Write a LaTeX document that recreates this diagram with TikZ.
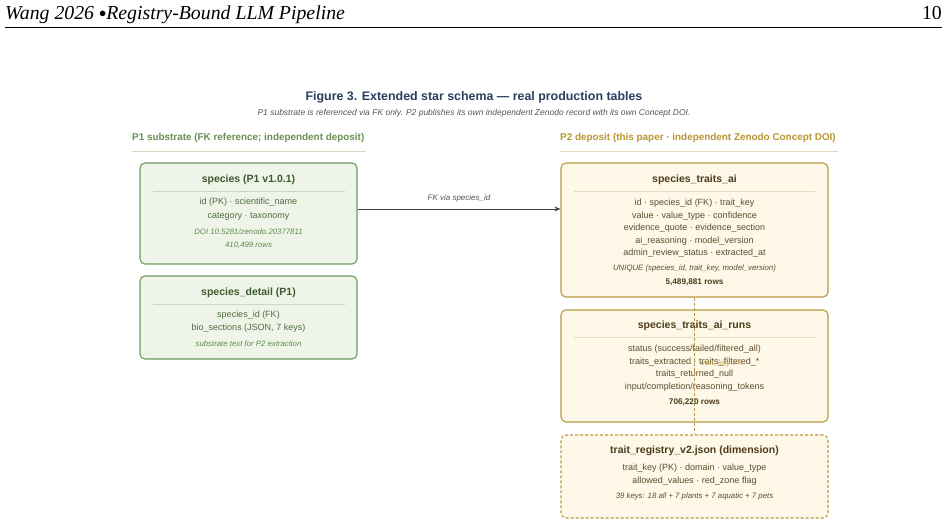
\documentclass[tikz,border=0pt]{standalone}
\usepackage{fontspec}
\setmainfont{Liberation Sans}
\newfontfamily\hdrfont{Liberation Serif}
\usetikzlibrary{arrows.meta}
\definecolor{gB}{HTML}{6E9A5E}
\definecolor{gF}{HTML}{EEF5E8}
\definecolor{gT}{HTML}{3E5A30}
\definecolor{gX}{HTML}{4E6B40}
\definecolor{gI}{HTML}{5E8A4E}
\definecolor{gH}{HTML}{6A8F50}
\definecolor{gL}{HTML}{C8DCC0}
\definecolor{yB}{HTML}{B8983E}
\definecolor{yF}{HTML}{FDF8E8}
\definecolor{yT}{HTML}{4E3C1C}
\definecolor{yX}{HTML}{5E4C2C}
\definecolor{yH}{HTML}{B89632}
\definecolor{yL}{HTML}{E8DCB8}
\definecolor{yS}{HTML}{E4DCC8}
\definecolor{gS}{HTML}{C8D8C0}
\definecolor{navy}{HTML}{2C3E60}
\definecolor{sub}{HTML}{555555}
\definecolor{arr}{HTML}{444444}
\tikzset{
  gbox/.style={draw=gB, fill=gF, rounded corners=5pt, line width=1.1pt, inner sep=0pt},
  ybox/.style={draw=yB, fill=yF, rounded corners=5pt, line width=1.1pt, inner sep=0pt},
  ydbox/.style={ybox, dashed, dash pattern=on 3pt off 2pt},
  gttl/.style={font=\fontsize{10.5}{12}\selectfont\bfseries, text=gT, inner sep=0pt},
  gtxt/.style={font=\fontsize{9}{10}\selectfont, text=gX, inner sep=0pt},
  gital/.style={font=\fontsize{7.8}{9}\selectfont\itshape, text=gI, inner sep=0pt},
  yttl/.style={font=\fontsize{10.5}{12}\selectfont\bfseries, text=yT, inner sep=0pt},
  ytxt/.style={font=\fontsize{9}{10}\selectfont, text=yX, inner sep=0pt},
  yital/.style={font=\fontsize{7.8}{9}\selectfont\itshape, text=yX, inner sep=0pt},
  ybold/.style={font=\fontsize{8.2}{9}\selectfont\bfseries, text=yT, inner sep=0pt},
  sechead/.style={font=\fontsize{9.9}{11}\selectfont\bfseries, inner sep=0pt},
}
\begin{document}
\begin{tikzpicture}[x=1pt,y=-1pt]
\useasboundingbox[fill=white] (0,0) rectangle (948,526);
% page header
\node[font=\fontsize{19.8}{22}\selectfont\hdrfont\itshape, anchor=base west, inner sep=0pt] (hdr) at (5,20) {Wang 2026 \raisebox{2.2pt}{\fontsize{15}{16}\selectfont$\bullet$}Registry-Bound LLM Pipeline};
\node[font=\fontsize{19.8}{22}\selectfont\hdrfont, anchor=base east, inner sep=0pt] (pg) at (942,20) {10};
\draw[line width=0.8pt] (5,27) -- (942,27);
% titles
\node[font=\fontsize{12.4}{14}\selectfont\bfseries, text=navy, inner sep=0pt] (ttl) at (474,97) {Figure 3. Extended star schema — real production tables};
\node[font=\fontsize{8.5}{10}\selectfont\itshape, text=sub, inner sep=0pt] (subttl) at (474,113) {P1 substrate is referenced via FK only. P2 publishes its own independent Zenodo record with its own Concept DOI.};
% section heads
\node[sechead, text=gH, anchor=west] (h1) at (132,138) {P1 substrate (FK reference; independent deposit)};
\draw[gL, line width=1pt] (132,152) -- (366,152);
\node[sechead, text=yH, anchor=west] (h2) at (560,138) {P2 deposit (this paper · independent Zenodo Concept DOI)};
\draw[yL, line width=1pt] (560,152) -- (838,152);
% boxes
\node[gbox, minimum width=217, minimum height=101] (sp) at (248.5,213.5) {};
\node[gbox, minimum width=217, minimum height=83] (spd) at (248.5,317.5) {};
\node[ybox, minimum width=267, minimum height=134] (sta) at (694.5,230) {};
\node[ybox, minimum width=267, minimum height=112] (star) at (694.5,366) {};
\node[ydbox, minimum width=267, minimum height=83] (reg) at (694.5,476.5) {};
% species
\node[gttl] (sp1) at (248.5,180) {species (P1 v1.0.1)};
\draw[gS, line width=0.6pt] (153,191) -- (345,191);
\node[gtxt] (sp2) at (248.5,202.5) {id (PK) · scientific\_name};
\node[gtxt] (sp3) at (248.5,216.5) {category · taxonomy};
\node[gital] (sp4) at (248.5,232) {DOI 10.5281/zenodo.20377811};
\node[gital] (sp5) at (248.5,245) {410,499 rows};
% species_detail
\node[gttl] (sd1) at (248.5,292.5) {species\_detail (P1)};
\draw[gS, line width=0.6pt] (153,304) -- (345,304);
\node[gtxt] (sd2) at (248.5,315.5) {species\_id (FK)};
\node[gtxt] (sd3) at (248.5,328.5) {bio\_sections (JSON, 7 keys)};
\node[gital] (sd4) at (248.5,344) {substrate text for P2 extraction};
% species_traits_ai
\node[yttl] (st1) at (694.5,180) {species\_traits\_ai};
\draw[yS, line width=0.6pt] (574,191) -- (815,191);
\node[ytxt] (st2) at (694.5,203.5) {id · species\_id (FK) · trait\_key};
\node[ytxt] (st3) at (694.5,216) {value · value\_type · confidence};
\node[ytxt] (st4) at (694.5,228.5) {evidence\_quote · evidence\_section};
\node[ytxt] (st5) at (694.5,241) {ai\_reasoning · model\_version};
\node[ytxt] (st6) at (694.5,253.5) {admin\_review\_status · extracted\_at};
\node[yital] (st7) at (694.5,268.5) {UNIQUE (species\_id, trait\_key, model\_version)};
\node[ybold] (st8) at (694.5,282) {5,489,881 rows};
% runs
\node[yttl] (sr1) at (694.5,325.5) {species\_traits\_ai\_runs};
\draw[yS, line width=0.6pt] (574,337) -- (815,337);
\node[ytxt] (sr2) at (694.5,349.5) {status (success/failed/filtered\_all)};
\node[ytxt] (sr3) at (694.5,362) {traits\_extracted · traits\_filtered\_*};
\node[ytxt] (sr4) at (694.5,374.5) {traits\_returned\_null};
\node[ytxt] (sr5) at (694.5,387) {input/completion/reasoning\_tokens};
\node[ybold] (sr6) at (694.5,402) {706,220 rows};
% registry
\node[yttl] (rg1) at (694.5,451) {trait\_registry\_v2.json (dimension)};
\node[ytxt] (rg2) at (694.5,468) {trait\_key (PK) · domain · value\_type};
\node[ytxt] (rg3) at (694.5,481) {allowed\_values · red\_zone flag};
\node[yital] (rg4) at (694.5,496) {39 keys: 18 all + 7 plants + 7 aquatic + 7 pets};
% connectors
\draw[arr, line width=0.9pt, -{Stealth[length=6pt,width=5pt]}] (sp.east |- 0,209) -- (sta.west |- 0,209) node[midway, above=6pt, font=\fontsize{8}{9}\selectfont\itshape, text=sub, inner sep=0pt] (fk1) {FK via species\_id};
\draw[yB, line width=0.8pt, dash pattern=on 3pt off 2pt] (sta.south) -- (reg.north) node[pos=0.48, right=6pt, font=\fontsize{7.8}{9}\selectfont\itshape, text=yH!80, inner sep=0pt] (fk2) {trait\_key FK};
\end{tikzpicture}
\end{document}
